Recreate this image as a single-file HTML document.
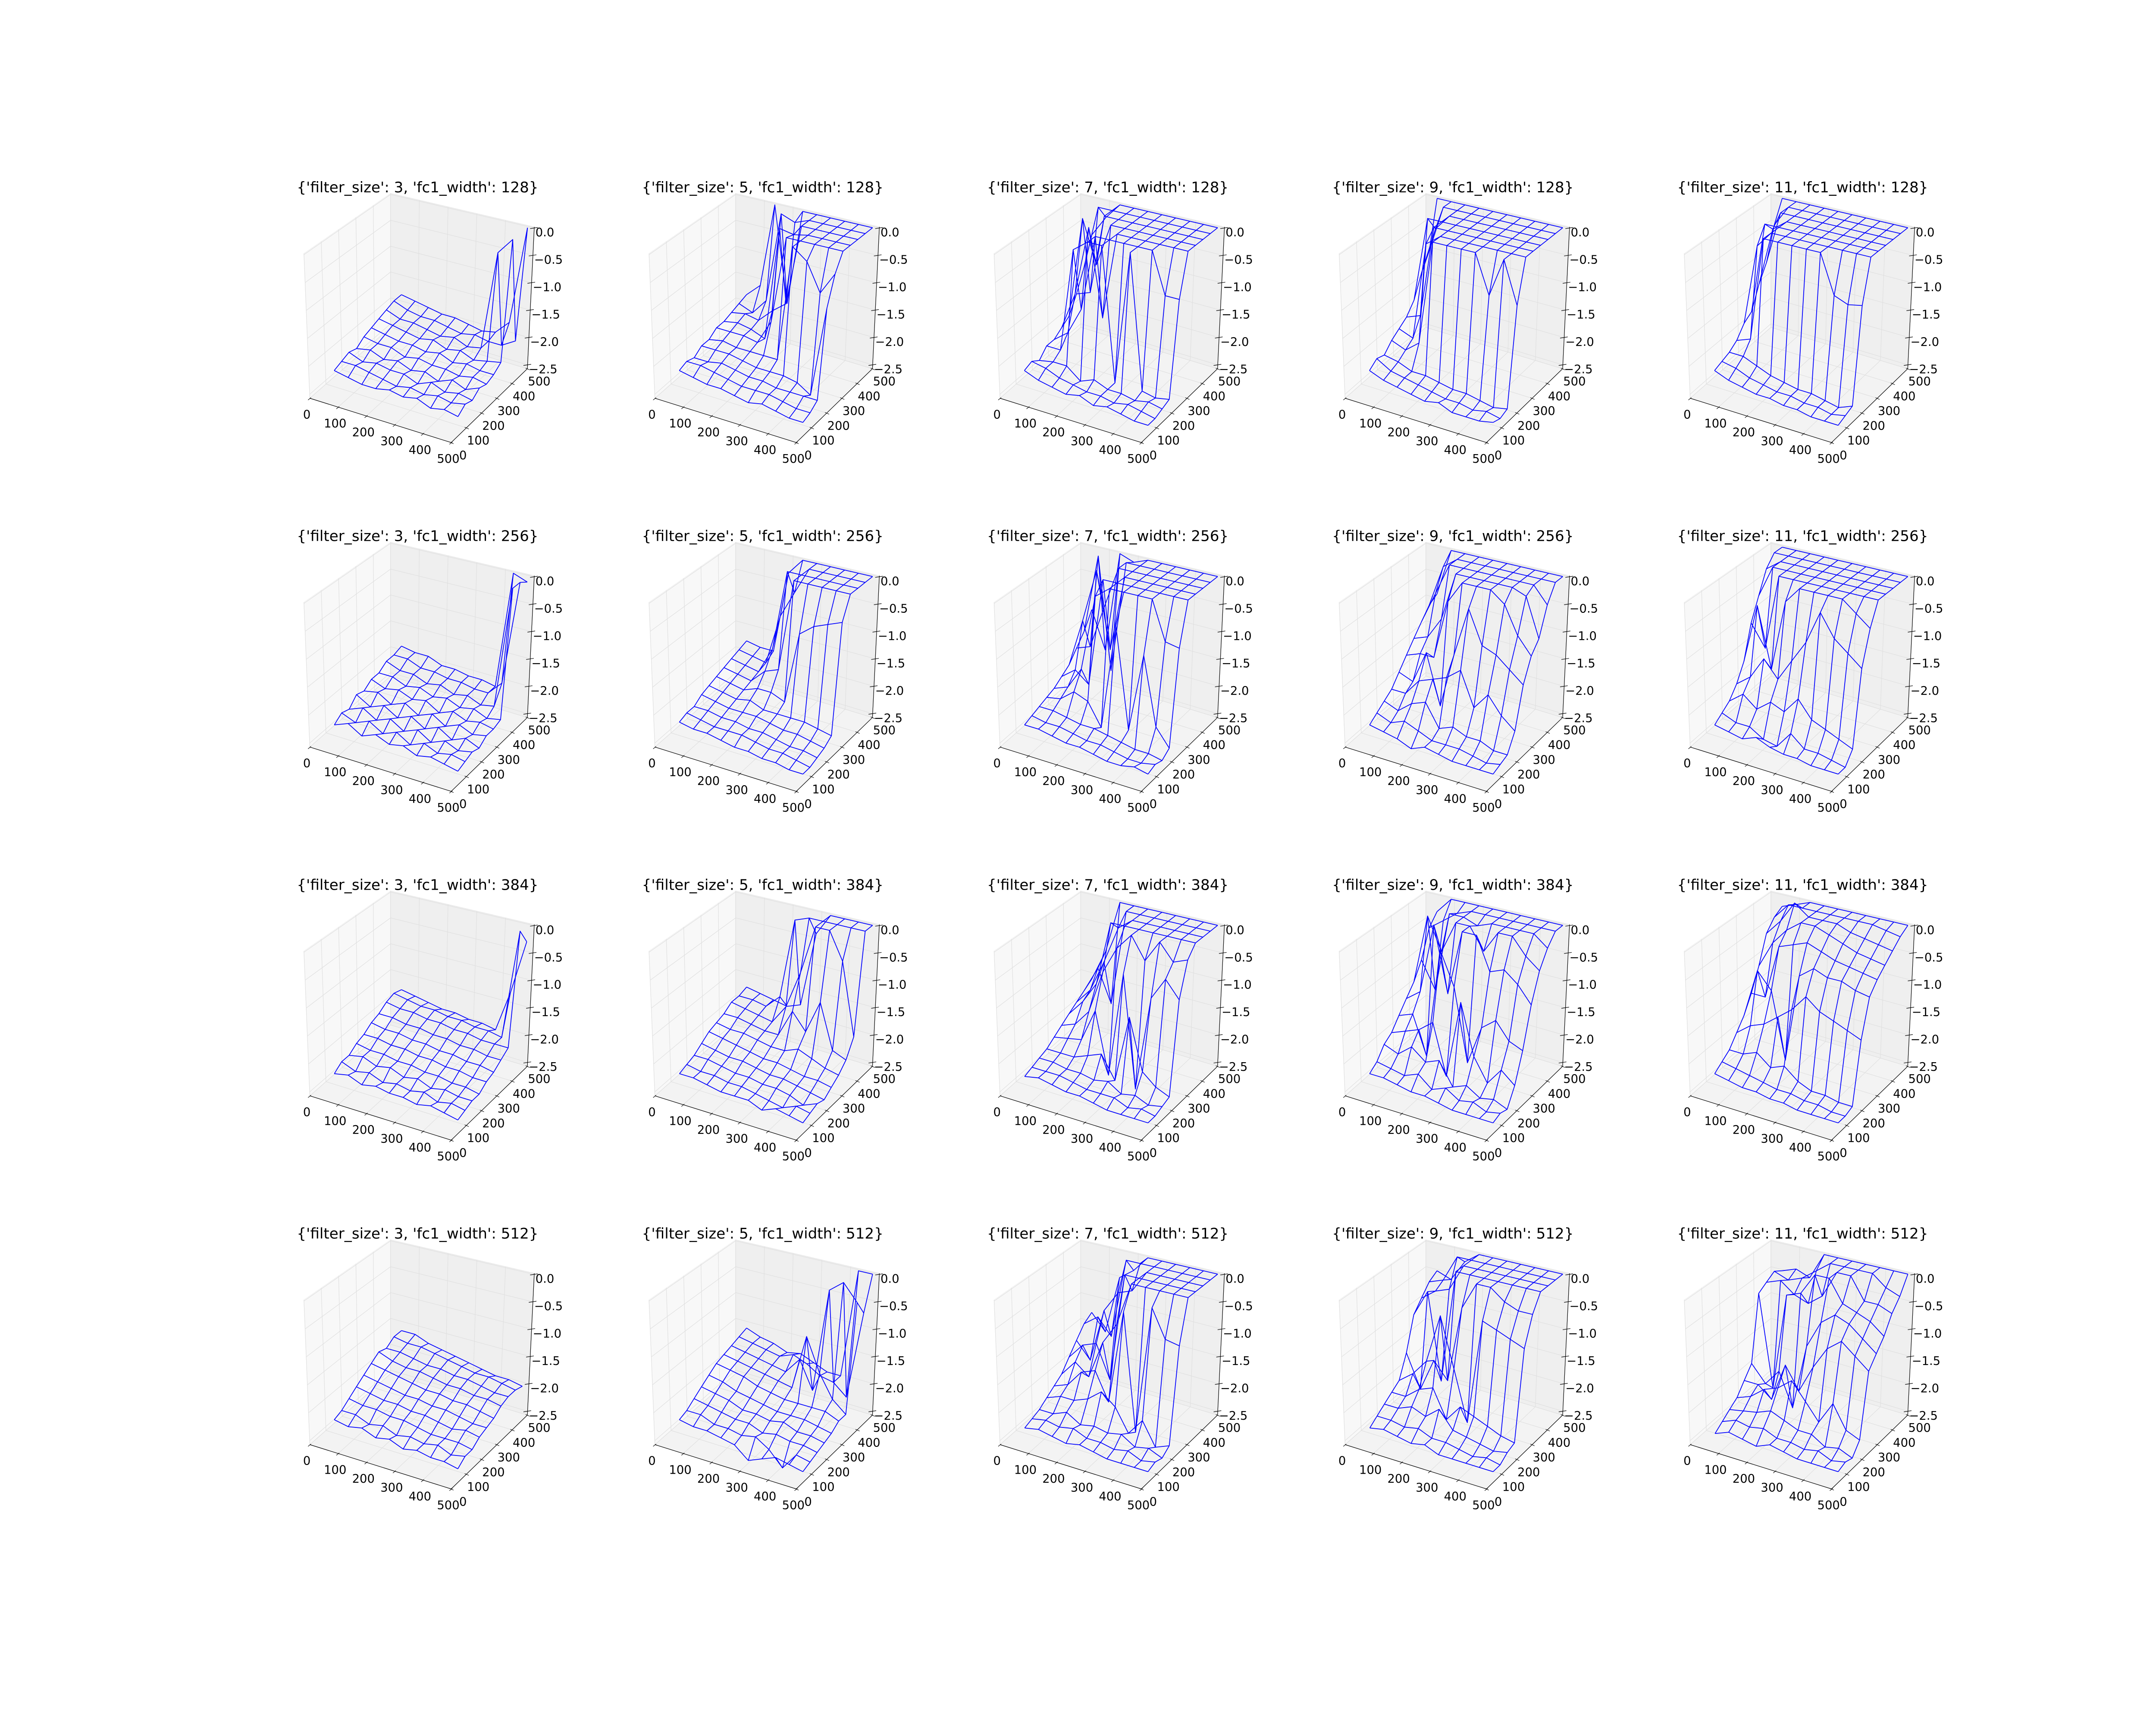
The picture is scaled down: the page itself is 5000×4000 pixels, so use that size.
<!DOCTYPE html>
<html><head><meta charset="utf-8"><title>Wireframe grid</title>
<style>html,body{margin:0;padding:0;background:#fff}svg{display:block}</style></head>
<body>
<svg id="fig" xmlns="http://www.w3.org/2000/svg" width="5000" height="4000" viewBox="0 0 5000 4000" font-family="'DejaVu Sans','Liberation Sans',sans-serif">
<rect width="5000" height="4000" fill="#ffffff"/>
</svg>
<script>
const filterSizes = [3, 5, 7, 9, 11];
const fc1Widths = [128, 256, 384, 512];
const xVals = [44, 93, 141, 190, 238, 287, 335, 384, 432, 481];
const yVals = [78, 124, 170, 216, 262, 308, 354, 400, 446, 492];
const xTicks = [0, 100, 200, 300, 400, 500];
const yTicks = [0, 100, 200, 300, 400, 500];
const zTicks = [0.0, -0.5, -1.0, -1.5, -2.0, -2.5];
const zTickLabels = ["0.0", "\u22120.5", "\u22121.0", "\u22121.5", "\u22122.0", "\u22122.5"];

const z_3_128 = [
[-2.20,-2.15,-2.10,-2.15,-2.05,-2.00,-1.95,-1.90,-1.85,-1.85],
[-2.25,-2.15,-2.20,-2.10,-2.10,-2.05,-2.00,-2.00,-1.95,-1.90],
[-2.30,-2.20,-2.15,-2.20,-2.10,-2.10,-2.05,-2.00,-2.00,-1.95],
[-2.30,-2.25,-2.20,-2.15,-2.20,-2.10,-2.10,-2.05,-2.00,-2.00],
[-2.25,-2.30,-2.20,-2.25,-2.15,-2.15,-2.05,-2.10,-2.05,-2.00],
[-2.30,-2.25,-2.30,-2.20,-2.20,-2.10,-2.15,-2.05,-2.10,-2.05],
[-2.25,-2.30,-2.20,-2.30,-2.20,-2.20,-2.10,-2.15,-2.05,-2.10],
[-2.35,-2.25,-2.30,-2.20,-2.25,-2.15,-2.20,-2.10,-2.10,-2.05],
[-2.30,-2.30,-2.25,-2.30,-2.20,-2.20,-2.15,-0.30,-2.10,-1.80],
[-2.35,-2.25,-2.30,-2.20,-2.25,-2.20,-2.10,0.00,-1.95,0.00]];
const z_5_128 = [
[-2.20,-2.15,-2.20,-2.10,-2.10,-2.00,-2.00,-1.95,-1.90,-1.85],
[-2.25,-2.15,-2.20,-2.10,-2.05,-2.00,-1.95,-1.90,-2.00,-1.60],
[-2.30,-2.20,-2.15,-2.10,-2.10,-2.00,-2.00,-1.95,-1.70,0.00],
[-2.30,-2.25,-2.20,-2.15,-2.10,-2.05,-2.10,-1.70,0.00,-1.80],
[-2.35,-2.30,-2.25,-2.20,-2.10,-1.60,0.00,-1.50,-0.10,0.00],
[-2.40,-2.30,-2.25,-2.20,-2.10,0.00,-0.05,0.00,0.00,0.00],
[-2.35,-2.30,-2.30,-2.20,0.00,0.00,0.00,0.00,0.00,0.00],
[-2.40,-2.35,-2.30,-2.25,-0.20,0.00,0.00,0.00,0.00,0.00],
[-2.45,-2.40,-2.30,-2.40,-0.70,0.00,0.00,0.00,0.00,0.00],
[-2.45,-2.40,-2.30,-0.80,-0.30,0.00,0.00,0.00,0.00,0.00]];
const z_7_128 = [
[-2.20,-2.15,-2.25,-2.10,-2.10,-2.00,-1.90,-1.60,-1.20,-0.70],
[-2.30,-2.20,-2.20,-2.10,-1.90,-1.30,0.00,-1.50,0.00,-0.30],
[-2.35,-2.30,-2.20,-0.20,-1.40,0.00,-0.80,0.00,0.00,0.00],
[-2.40,-2.35,-2.40,0.00,0.00,-1.60,0.00,0.00,0.00,0.00],
[-2.35,-2.40,-2.30,0.00,0.00,0.00,0.00,0.00,0.00,0.00],
[-2.45,-2.40,-2.40,-2.40,0.00,0.00,0.00,0.00,0.00,0.00],
[-2.40,-2.45,-2.40,0.00,0.00,0.00,0.00,0.00,0.00,0.00],
[-2.45,-2.40,-2.45,-2.40,0.00,0.00,0.00,0.00,0.00,0.00],
[-2.50,-2.45,-2.40,-2.45,-0.75,0.00,0.00,0.00,0.00,0.00],
[-2.50,-2.50,-2.45,-2.40,-0.75,0.00,0.00,0.00,0.00,0.00]];
const z_9_128 = [
[-2.20,-2.10,-2.15,-2.00,-1.90,-1.80,-1.60,-1.20,-0.90,0.00],
[-2.30,-2.25,-2.20,-2.10,-2.00,-1.70,0.00,-0.30,0.00,0.00],
[-2.35,-2.30,-2.30,-1.90,-0.20,0.00,0.00,0.00,0.00,0.00],
[-2.40,-2.35,-2.30,0.00,0.00,0.00,0.00,0.00,0.00,0.00],
[-2.45,-2.40,-2.35,0.00,0.00,0.00,0.00,0.00,0.00,0.00],
[-2.40,-2.45,-2.40,0.00,0.00,0.00,0.00,0.00,0.00,0.00],
[-2.50,-2.45,-2.40,0.00,0.00,0.00,0.00,0.00,0.00,0.00],
[-2.50,-2.50,-2.45,-0.70,0.00,0.00,0.00,0.00,0.00,0.00],
[-2.50,-2.45,-2.50,0.00,0.00,0.00,0.00,0.00,0.00,0.00],
[-2.45,-2.50,-2.45,-0.75,0.00,0.00,0.00,0.00,0.00,0.00]];
const z_11_128 = [
[-2.20,-2.15,-2.10,-2.00,-1.80,-1.70,-1.30,-1.00,-0.40,0.00],
[-2.30,-2.20,-2.10,-1.90,-0.30,0.00,-0.20,0.00,0.00,0.00],
[-2.35,-2.30,-2.20,0.00,0.00,0.00,0.00,0.00,0.00,0.00],
[-2.40,-2.35,-2.30,0.00,0.00,0.00,0.00,0.00,0.00,0.00],
[-2.40,-2.40,-2.35,0.00,0.00,0.00,0.00,0.00,0.00,0.00],
[-2.45,-2.40,-2.40,0.00,0.00,0.00,0.00,0.00,0.00,0.00],
[-2.45,-2.45,-2.40,0.00,0.00,0.00,0.00,0.00,0.00,0.00],
[-2.50,-2.45,-2.45,-0.70,0.00,0.00,0.00,0.00,0.00,0.00],
[-2.50,-2.50,-2.50,-0.80,0.00,0.00,0.00,0.00,0.00,0.00],
[-2.50,-2.45,-2.40,-0.75,0.00,0.00,0.00,0.00,0.00,0.00]];

const z_3_256 = [
[-2.30,-2.20,-2.25,-2.10,-2.15,-2.05,-2.05,-1.95,-1.95,-1.90],
[-2.20,-2.30,-2.15,-2.25,-2.10,-2.15,-2.05,-2.05,-1.95,-1.95],
[-2.35,-2.20,-2.30,-2.15,-2.25,-2.10,-2.15,-2.05,-2.05,-1.95],
[-2.25,-2.35,-2.20,-2.30,-2.15,-2.20,-2.10,-2.15,-2.05,-2.05],
[-2.35,-2.25,-2.35,-2.20,-2.30,-2.15,-2.20,-2.10,-2.10,-2.05],
[-2.30,-2.40,-2.25,-2.35,-2.20,-2.30,-2.15,-2.20,-2.10,-2.10],
[-2.40,-2.30,-2.40,-2.25,-2.35,-2.20,-2.25,-2.15,-2.15,-2.10],
[-2.35,-2.40,-2.30,-2.40,-2.25,-2.30,-2.20,-2.25,-2.15,-2.15],
[-2.40,-2.35,-2.40,-2.30,-2.35,-2.25,-2.30,-2.20,-1.90,0.00],
[-2.45,-2.40,-2.35,-2.40,-2.30,-2.30,-2.25,0.00,0.00,-0.10]];
const z_5_256 = [
[-2.25,-2.20,-2.20,-2.10,-2.05,-2.00,-1.95,-1.90,-1.85,-1.80],
[-2.30,-2.25,-2.20,-2.15,-2.10,-2.05,-2.00,-1.95,-1.90,-1.85],
[-2.30,-2.30,-2.25,-2.20,-2.15,-2.10,-2.05,-2.00,-1.95,-1.85],
[-2.35,-2.30,-2.25,-2.20,-2.10,-2.00,-1.80,-1.50,-1.00,-0.30],
[-2.40,-2.30,-2.30,-2.20,-2.20,-2.00,-1.70,0.00,-0.50,0.00],
[-2.40,-2.35,-2.30,-2.25,-2.20,-2.10,0.00,0.00,0.00,0.00],
[-2.45,-2.40,-2.35,-2.30,-2.20,-0.80,0.00,0.00,0.00,0.00],
[-2.45,-2.40,-2.40,-2.30,-2.20,-0.60,0.00,0.00,0.00,0.00],
[-2.50,-2.45,-2.40,-2.35,-2.25,-0.50,0.00,0.00,0.00,0.00],
[-2.50,-2.50,-2.45,-2.40,-2.30,-0.40,0.00,0.00,0.00,0.00]];
const z_7_256 = [
[-2.30,-2.25,-2.20,-2.15,-2.10,-2.00,-1.90,-1.70,-1.50,-1.20],
[-2.30,-2.30,-2.20,-2.10,-2.00,-1.80,-1.00,-1.60,0.00,-1.90],
[-2.35,-2.30,-2.25,-1.90,-1.60,-2.00,0.00,-0.80,-2.10,0.00],
[-2.40,-2.35,-2.30,-2.00,-0.20,0.00,-1.40,0.00,0.00,-0.10],
[-2.40,-2.40,-2.30,-2.40,0.00,0.00,0.00,0.00,0.00,0.00],
[-2.45,-2.40,-2.35,-0.50,0.00,0.00,0.00,0.00,0.00,0.00],
[-2.50,-2.45,-2.40,-2.30,0.00,0.00,0.00,0.00,0.00,0.00],
[-2.50,-2.50,-2.45,-0.90,0.00,0.00,0.00,0.00,0.00,0.00],
[-2.45,-2.50,-2.45,-2.10,-0.70,0.00,0.00,0.00,0.00,0.00],
[-2.50,-2.45,-2.50,-2.40,-0.75,0.00,0.00,0.00,0.00,0.00]];
const z_9_256 = [
[-2.30,-2.20,-2.10,-2.00,-1.80,-1.60,-1.40,-1.20,-1.00,-0.90],
[-2.35,-2.30,-2.20,-2.00,-1.90,-1.50,-1.30,-0.60,-0.20,0.00],
[-2.40,-2.20,-2.00,-1.70,-1.30,-1.50,-0.90,0.00,0.00,0.00],
[-2.50,-2.30,-1.90,-1.60,-2.20,-0.40,0.00,0.00,0.00,0.00],
[-2.40,-2.40,-2.30,-1.50,-1.20,0.00,0.00,0.00,0.00,0.00],
[-2.45,-2.40,-2.20,-1.30,-0.30,0.00,0.00,0.00,0.00,0.00],
[-2.50,-2.40,-2.30,-1.90,-0.90,0.00,0.00,0.00,0.00,0.00],
[-2.50,-2.45,-2.30,-1.60,-1.00,-0.20,0.00,0.00,0.00,0.00],
[-2.50,-2.50,-2.40,-1.90,-1.20,-0.70,-0.10,0.00,0.00,0.00],
[-2.50,-2.45,-2.40,-2.10,-1.40,-1.00,-0.80,-0.30,0.00,0.00]];
const z_11_256 = [
[-2.30,-2.20,-2.10,-1.90,-1.60,-1.00,-0.60,-0.20,0.00,0.00],
[-2.35,-2.30,-1.90,-1.70,-0.50,-1.40,0.00,0.00,0.00,0.00],
[-2.40,-2.30,-2.10,-1.30,-1.60,0.00,0.00,0.00,0.00,0.00],
[-2.30,-2.45,-1.90,-1.60,-0.30,0.00,0.00,0.00,0.00,0.00],
[-2.40,-2.50,-2.00,-1.20,0.00,0.00,0.00,0.00,0.00,0.00],
[-2.45,-2.20,-1.70,-0.80,0.00,0.00,0.00,0.00,0.00,0.00],
[-2.45,-2.40,-2.00,-0.20,0.00,0.00,0.00,0.00,0.00,0.00],
[-2.50,-2.40,-2.10,-0.60,0.00,0.00,0.00,0.00,0.00,0.00],
[-2.50,-2.45,-2.20,-0.80,-0.20,0.00,0.00,0.00,0.00,0.00],
[-2.50,-2.50,-2.30,-1.00,-0.40,0.00,0.00,0.00,0.00,0.00]];

const z_3_384 = [
[-2.30,-2.20,-2.20,-2.10,-2.05,-1.95,-1.90,-1.80,-1.75,-1.80],
[-2.25,-2.30,-2.15,-2.15,-2.05,-2.00,-1.90,-1.85,-1.80,-1.85],
[-2.35,-2.25,-2.25,-2.15,-2.10,-2.00,-1.95,-1.85,-1.85,-1.90],
[-2.30,-2.35,-2.20,-2.20,-2.10,-2.05,-1.95,-1.90,-1.85,-1.95],
[-2.35,-2.30,-2.30,-2.20,-2.15,-2.05,-2.00,-1.90,-1.90,-1.95],
[-2.35,-2.35,-2.25,-2.25,-2.15,-2.10,-2.00,-1.95,-1.90,-2.00],
[-2.40,-2.30,-2.35,-2.25,-2.20,-2.10,-2.05,-1.95,-1.95,-2.00],
[-2.35,-2.40,-2.30,-2.30,-2.20,-2.15,-2.05,-2.00,-1.95,-2.05],
[-2.40,-2.35,-2.35,-2.30,-2.25,-2.15,-2.10,-2.00,-2.00,-1.30],
[-2.45,-2.40,-2.35,-2.35,-2.25,-2.20,-2.10,-2.00,0.00,-0.30]];
const z_5_384 = [
[-2.30,-2.25,-2.20,-2.10,-2.00,-1.95,-1.90,-1.80,-1.80,-1.75],
[-2.30,-2.30,-2.20,-2.15,-2.05,-2.00,-1.90,-1.85,-1.80,-1.80],
[-2.35,-2.30,-2.25,-2.20,-2.10,-2.00,-1.95,-1.90,-1.85,-1.85],
[-2.40,-2.35,-2.30,-2.20,-2.15,-2.05,-2.00,-1.95,-1.60,-1.90],
[-2.40,-2.35,-2.30,-2.25,-2.20,-2.10,-2.00,-1.60,-0.10,-1.80],
[-2.40,-2.40,-2.35,-2.30,-2.20,-2.10,-1.50,-0.90,0.00,-0.40],
[-2.50,-2.45,-2.35,-2.30,-2.25,-2.00,-1.80,0.00,0.00,0.00],
[-2.40,-2.50,-2.40,-2.35,-2.30,-2.10,-1.20,0.00,0.00,0.00],
[-2.45,-2.40,-2.50,-2.40,-2.30,-2.20,-2.00,-0.50,0.00,0.00],
[-2.50,-2.45,-2.40,-2.45,-2.35,-2.25,-2.10,-1.80,0.00,0.00]];
const z_7_384 = [
[-2.35,-2.30,-2.25,-2.20,-2.10,-2.00,-1.90,-1.80,-1.70,-1.60],
[-2.30,-2.30,-2.25,-2.20,-2.05,-1.90,-1.60,-1.50,-1.20,-1.00],
[-2.35,-2.30,-2.30,-2.20,-2.00,-1.60,-1.20,-0.90,-1.80,0.00],
[-2.40,-2.35,-2.30,-2.10,-1.40,-0.80,0.00,-0.20,0.00,0.00],
[-2.40,-2.40,-2.35,-2.00,-2.50,-0.30,0.00,0.00,0.00,0.00],
[-2.45,-2.40,-2.30,-2.40,-0.60,0.00,0.00,0.00,0.00,0.00],
[-2.50,-2.40,-2.45,-1.20,-2.60,-0.40,0.00,0.00,0.00,0.00],
[-2.50,-2.50,-2.40,-2.10,-0.90,0.00,0.00,0.00,0.00,0.00],
[-2.50,-2.45,-2.50,-2.30,-0.50,-0.30,0.00,0.00,0.00,0.00],
[-2.50,-2.50,-2.45,-2.40,-0.80,-0.20,0.00,0.00,0.00,0.00]];
const z_9_384 = [
[-2.30,-2.20,-2.00,-1.90,-1.70,-1.50,-1.30,-1.00,-0.50,-0.30],
[-2.30,-2.25,-2.10,-1.80,-1.60,-1.30,0.00,-1.50,-0.30,0.00],
[-2.35,-2.30,-1.90,-1.70,-2.30,0.00,-0.60,0.00,-0.10,0.00],
[-2.40,-2.20,-2.10,-1.50,-0.30,-1.20,0.00,0.00,0.00,0.00],
[-2.40,-2.40,-2.00,-2.40,-0.90,0.00,0.00,-0.10,0.00,0.00],
[-2.45,-2.30,-2.40,-1.00,-2.20,0.00,-0.40,0.00,0.00,0.00],
[-2.50,-2.45,-2.30,-1.90,-1.50,-0.60,0.00,0.00,0.00,0.00],
[-2.50,-2.40,-2.45,-2.30,-1.30,-0.50,0.00,0.00,0.00,0.00],
[-2.50,-2.50,-2.40,-2.00,-1.60,-0.70,-0.30,0.00,0.00,0.00],
[-2.50,-2.45,-2.50,-2.20,-1.70,-1.00,-0.50,-0.20,0.00,0.00]];
const z_11_384 = [
[-2.30,-2.20,-2.10,-1.90,-1.70,-1.40,-1.00,-0.50,-0.30,-0.20],
[-2.35,-2.25,-2.10,-1.70,-0.80,-1.40,-0.50,-0.20,0.00,-0.10],
[-2.40,-2.30,-2.00,-1.60,-1.10,-0.40,-0.20,0.20,0.00,0.00],
[-2.40,-2.35,-2.20,-1.40,-2.30,-0.30,0.00,0.00,0.00,0.00],
[-2.45,-2.40,-2.10,-1.20,-0.70,-0.20,0.00,0.00,0.00,0.00],
[-2.45,-2.40,-2.30,-0.90,-0.50,-0.30,-0.10,0.00,0.00,0.00],
[-2.50,-2.45,-2.40,-1.10,-0.60,-0.40,-0.20,-0.10,0.00,0.00],
[-2.50,-2.45,-2.40,-1.20,-0.60,-0.45,-0.30,-0.15,0.00,0.00],
[-2.50,-2.50,-2.45,-1.30,-0.70,-0.50,-0.35,-0.20,-0.05,0.00],
[-2.50,-2.50,-2.45,-1.40,-0.75,-0.55,-0.40,-0.25,-0.10,0.00]];

const z_3_512 = [
[-2.25,-2.20,-2.10,-2.00,-1.90,-1.80,-1.70,-1.75,-1.65,-1.65],
[-2.30,-2.20,-2.15,-2.05,-1.95,-1.85,-1.80,-1.75,-1.70,-1.65],
[-2.25,-2.30,-2.15,-2.10,-2.00,-1.90,-1.85,-1.80,-1.70,-1.75],
[-2.35,-2.25,-2.20,-2.10,-2.05,-1.95,-1.85,-1.85,-1.75,-1.80],
[-2.30,-2.35,-2.20,-2.15,-2.05,-2.00,-1.90,-1.85,-1.80,-1.85],
[-2.40,-2.30,-2.25,-2.15,-2.10,-2.00,-1.95,-1.90,-1.85,-1.90],
[-2.35,-2.35,-2.30,-2.20,-2.10,-2.05,-1.95,-1.90,-1.90,-1.95],
[-2.40,-2.30,-2.30,-2.25,-2.15,-2.05,-2.00,-1.95,-1.90,-2.00],
[-2.40,-2.40,-2.30,-2.20,-2.20,-2.10,-2.00,-2.00,-1.95,-2.00],
[-2.45,-2.35,-2.35,-2.25,-2.20,-2.15,-2.05,-2.00,-2.00,-2.05]];
const z_5_512 = [
[-2.25,-2.20,-2.10,-2.00,-1.90,-1.80,-1.75,-1.70,-1.65,-1.60],
[-2.30,-2.20,-2.15,-2.05,-1.95,-1.85,-1.80,-1.75,-1.70,-1.70],
[-2.30,-2.30,-2.20,-2.10,-2.05,-1.90,-1.85,-1.80,-1.75,-1.75],
[-2.35,-2.30,-2.25,-2.20,-2.10,-2.00,-1.90,-1.85,-1.80,-1.85],
[-2.40,-2.35,-2.25,-2.20,-2.15,-2.05,-1.95,-1.90,-1.70,-1.80],
[-2.60,-2.30,-2.35,-2.25,-2.20,-2.10,-2.00,-1.60,-1.80,-1.90],
[-2.50,-2.45,-2.30,-2.20,-2.20,-2.10,-1.00,-2.10,-1.95,-2.00],
[-2.40,-2.70,-2.35,-2.30,-2.20,-2.10,-1.60,-0.20,-2.00,-2.00],
[-2.45,-2.40,-2.35,-2.30,-2.25,-2.10,-2.00,0.00,-2.20,0.00],
[-2.50,-2.45,-2.40,-2.35,-2.30,-2.20,-2.20,-0.30,-0.60,0.00]];
const z_7_512 = [
[-2.40,-2.35,-2.30,-2.20,-2.10,-2.00,-1.80,-1.60,-1.40,-1.30],
[-2.35,-2.30,-2.30,-2.10,-2.00,-1.70,-1.50,-1.90,-1.20,-1.60],
[-2.40,-2.35,-2.20,-2.10,-1.70,-1.90,-1.40,-0.90,-1.50,-0.50],
[-2.45,-2.30,-2.35,-2.00,-1.60,-1.20,-2.00,-0.50,0.00,-0.30],
[-2.40,-2.40,-2.30,-1.80,-2.10,-0.80,0.00,-0.40,0.00,0.00],
[-2.45,-2.40,-2.35,-2.00,-0.40,0.00,0.00,0.00,0.00,0.00],
[-2.50,-2.45,-2.30,-2.40,-2.50,0.00,0.00,0.00,0.00,0.00],
[-2.50,-2.40,-2.45,-2.10,-0.20,0.00,0.00,0.00,0.00,0.00],
[-2.50,-2.50,-2.40,-2.50,-0.70,0.00,0.00,0.00,0.00,0.00],
[-2.50,-2.45,-2.50,-2.40,-0.75,0.00,0.00,0.00,0.00,0.00]];
const z_9_512 = [
[-2.40,-2.30,-2.20,-2.10,-2.00,-1.60,-1.00,-0.80,-0.60,-0.50],
[-2.35,-2.30,-2.20,-2.10,-1.80,-2.20,-0.50,-0.60,-0.50,-0.60],
[-2.40,-2.35,-2.10,-1.90,-1.50,-1.60,-2.10,-0.50,0.00,-0.20],
[-2.45,-2.30,-2.20,-1.80,-0.60,-1.90,0.00,0.00,0.00,0.00],
[-2.40,-2.40,-2.00,-2.30,-1.50,-0.50,0.00,0.00,0.00,0.00],
[-2.50,-2.40,-2.30,-2.00,-2.40,0.00,0.00,0.00,0.00,0.00],
[-2.50,-2.45,-2.35,-2.10,-0.50,0.00,0.00,0.00,0.00,0.00],
[-2.50,-2.50,-2.40,-2.20,-0.60,-0.20,0.00,0.00,0.00,0.00],
[-2.50,-2.45,-2.45,-2.30,-0.70,-0.30,0.00,0.00,0.00,0.00],
[-2.50,-2.50,-2.40,-2.35,-0.80,-0.30,0.00,0.00,0.00,0.00]];
const z_11_512 = [
[-2.50,-2.40,-2.30,-2.20,-2.00,-1.80,-0.60,-0.50,-0.40,-0.50],
[-2.40,-2.30,-2.25,-2.10,-2.00,-2.10,-2.30,-0.40,-0.50,-0.40],
[-2.45,-2.35,-2.20,-1.90,-2.20,-1.80,-0.50,-0.60,-0.40,-0.50],
[-2.50,-2.30,-2.10,-1.80,-1.50,-2.40,-0.40,-0.70,-0.20,0.00],
[-2.40,-2.40,-2.20,-1.60,-1.90,-1.20,0.00,-0.50,0.00,0.00],
[-2.45,-2.40,-2.30,-1.90,-1.40,-0.70,0.00,0.00,0.00,0.00],
[-2.50,-2.45,-2.30,-2.20,-1.00,-0.50,-0.40,0.00,0.00,0.00],
[-2.50,-2.40,-2.45,-1.80,-0.80,-0.60,-0.50,-0.40,0.00,0.00],
[-2.50,-2.50,-2.40,-2.20,-1.00,-0.80,-0.60,-0.40,-0.20,0.00],
[-2.50,-2.45,-2.50,-2.30,-1.20,-1.00,-0.80,-0.50,-0.30,0.00]];

const surfaceRows = [
  [z_3_128, z_5_128, z_7_128, z_9_128, z_11_128],
  [z_3_256, z_5_256, z_7_256, z_9_256, z_11_256],
  [z_3_384, z_5_384, z_7_384, z_9_384, z_11_384],
  [z_3_512, z_5_512, z_7_512, z_9_512, z_11_512]];

const SVGNS = "http://www.w3.org/2000/svg";
const svg = document.getElementById("fig");
const PANEL_SCALE = 1.37;
const X_MIN = 0, X_MAX = 500, Y_MIN = 0, Y_MAX = 500, Z_MIN = -2.57, Z_MAX = 0.02;
const cL = [50, 396.7], cF = [289.3, 471.7], cR = [418.3, 346.7], cB = [186.7, 276.7];
const vL = [-10, -245], vF = [5, -257], vR = [11.7, -240], vB = [0, -226.7];
function bil(a, b, c, d, u, v, k) {
  return a[k]*(1-u)*(1-v) + b[k]*u*(1-v) + c[k]*u*v + d[k]*(1-u)*v;
}
function proj(x, y, z) {
  const u = (x - X_MIN) / (X_MAX - X_MIN), v = (y - Y_MIN) / (Y_MAX - Y_MIN);
  const w = (z - Z_MIN) / (Z_MAX - Z_MIN);
  return [bil(cL,cF,cR,cB,u,v,0) + w*bil(vL,vF,vR,vB,u,v,0),
          bil(cL,cF,cR,cB,u,v,1) + w*bil(vL,vF,vR,vB,u,v,1)];
}
function mk(tag, attrs, parent) {
  const el = document.createElementNS(SVGNS, tag);
  for (const k in attrs) el.setAttribute(k, attrs[k]);
  parent.appendChild(el);
  return el;
}
function pts(list) { return list.map(p => p[0].toFixed(1) + "," + p[1].toFixed(1)).join(" "); }

fc1Widths.forEach((fw, r) => {
  filterSizes.forEach((fs, c) => {
    const ox = 650 + c * 800.3, oy = 380 + r * 808.8;
    const g = mk("g", {transform: "translate(" + ox.toFixed(1) + "," + oy.toFixed(1) + ") scale(" + PANEL_SCALE + ")"}, svg);
    
    
    const floor = mk("polygon", {points: pts([proj(X_MIN,Y_MIN,Z_MIN),proj(X_MAX,Y_MIN,Z_MIN),proj(X_MAX,Y_MAX,Z_MIN),proj(X_MIN,Y_MAX,Z_MIN)]), fill: "#f3f3f3", stroke: "#e8e8e8", "stroke-width": 0.8}, g);
    
    
    const left = mk("polygon", {points: pts([proj(X_MIN,Y_MIN,Z_MIN),proj(X_MIN,Y_MAX,Z_MIN),proj(X_MIN,Y_MAX,Z_MAX),proj(X_MIN,Y_MIN,Z_MAX)]), fill: "#f8f8f8", stroke: "#eeeeee", "stroke-width": 0.8}, g);
    
    
    const back = mk("polygon", {points: pts([proj(X_MIN,Y_MAX,Z_MIN),proj(X_MAX,Y_MAX,Z_MIN),proj(X_MAX,Y_MAX,Z_MAX),proj(X_MIN,Y_MAX,Z_MAX)]), fill: "#efefef", stroke: "#e6e6e6", "stroke-width": 0.8}, g);
    
    
    const grid = mk("g", {stroke: "#e0e0e0", "stroke-width": 0.9, fill: "none"}, g);
    
    
    xTicks.forEach(t => {
      mk("polyline", {points: pts([proj(t,Y_MIN,Z_MIN), proj(t,Y_MAX,Z_MIN), proj(t,Y_MAX,Z_MAX)])}, grid);
    });
    yTicks.forEach(t => {
      mk("polyline", {points: pts([proj(X_MAX,t,Z_MIN), proj(X_MIN,t,Z_MIN), proj(X_MIN,t,Z_MAX)])}, grid);
    });
    zTicks.forEach(t => {
      mk("polyline", {points: pts([proj(X_MIN,Y_MIN,t), proj(X_MIN,Y_MAX,t), proj(X_MAX,Y_MAX,t)])}, grid);
    });
    const axes = mk("g", {stroke: "#000", "stroke-width": 0.9, fill: "none"}, g);
    
    
    mk("polyline", {points: pts([proj(X_MIN,Y_MIN,Z_MIN), proj(X_MAX,Y_MIN,Z_MIN), proj(X_MAX,Y_MAX,Z_MIN), proj(X_MAX,Y_MAX,Z_MAX)])}, axes);
    const lab = mk("g", {"font-size": 20, fill: "#000"}, g);
    
    
    xTicks.forEach((t, k) => {
      const p = proj(t, Y_MIN, Z_MIN);
      mk("line", {x1: p[0]+2, y1: p[1]-1, x2: p[0]-3, y2: p[1]+3, stroke: "#000", "stroke-width": 0.8}, axes);
      const tx = mk("text", {x: (p[0]-5).toFixed(1), y: (p[1]+28).toFixed(1), "text-anchor": "middle", "dominant-baseline": "central"}, lab);
      
      
      tx.textContent = String(t);
    });
    yTicks.forEach((t, k) => {
      const p = proj(X_MAX, t, Z_MIN);
      mk("line", {x1: p[0]-3, y1: p[1]-1, x2: p[0]+4, y2: p[1]+2, stroke: "#000", "stroke-width": 0.8}, axes);
      const tx = mk("text", {x: (p[0]+20).toFixed(1), y: (p[1]+22).toFixed(1), "text-anchor": "middle", "dominant-baseline": "central"}, lab);
      
      
      tx.textContent = String(t);
    });
    zTicks.forEach((t, k) => {
      const p = proj(X_MAX, Y_MAX, t);
      mk("line", {x1: p[0]-7, y1: p[1]+1, x2: p[0]+6, y2: p[1]-1, stroke: "#000", "stroke-width": 0.9}, axes);
      const tx = mk("text", {x: (p[0]+2).toFixed(1), y: (p[1]+8).toFixed(1), "text-anchor": "start", "dominant-baseline": "central"}, lab);
      
      
      tx.textContent = zTickLabels[k];
    });
    const Z = surfaceRows[r][c];
    const wf = mk("g", {stroke: "#0000ff", "stroke-width": 1.3, fill: "none", "stroke-linejoin": "round"}, g);
    
    
    for (let i = 0; i < xVals.length; i++) {
      const line = mk("polyline", {points: pts(yVals.map((yv, j) => proj(xVals[i], yv, Z[i][j])))}, wf);
      
    }
    for (let j = 0; j < yVals.length; j++) {
      const line = mk("polyline", {points: pts(xVals.map((xv, i) => proj(xv, yVals[j], Z[i][j])))}, wf);
      
    }
    const title = mk("text", {x: 28, y: 48, "font-size": 24.9, fill: "#000"}, g);
    
    
    title.textContent = "{'filter_size': " + fs + ", 'fc1_width': " + fw + "}";
  });
});
</script>
</body></html>
